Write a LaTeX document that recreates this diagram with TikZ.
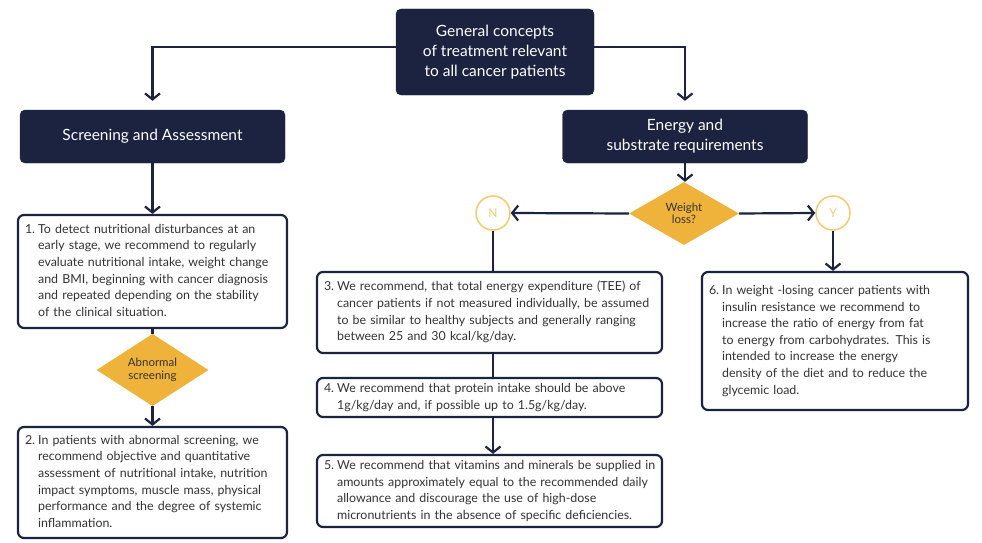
\documentclass[tikz,border=0pt]{standalone}
\usepackage{fontspec}
\setmainfont{Lato}
\usetikzlibrary{arrows.meta,shapes.geometric,positioning}
\definecolor{navy}{HTML}{1B2340}
\definecolor{gold}{HTML}{EFB33C}
\definecolor{lgold}{HTML}{F3CB6E}
\definecolor{txt}{HTML}{333333}
\begin{document}
\begin{tikzpicture}[x=1pt,y=-1pt,
  title/.style={draw=navy,fill=navy,rounded corners=5pt,text=white,align=center,
     font=\fontsize{15.5}{20}\selectfont,inner sep=0pt},
  rec/.style={draw=navy,line width=2.2pt,rounded corners=6pt,fill=white,text=txt,
     inner xsep=7pt,inner ysep=0pt,align=left,font=\fontsize{12.4}{16.6}\selectfont},
  dia/.style={diamond,fill=gold,inner sep=0pt,text=txt,align=center,
     font=\fontsize{11.5}{12.5}\selectfont},
  yn/.style={circle,draw=lgold,line width=1.5pt,fill=white,minimum size=34pt,inner sep=0pt,
     text=lgold,font=\fontsize{12}{12}\selectfont},
  con/.style={draw=navy,line width=2.2pt},
  arr/.style={con,-{Straight Barb[length=6pt,width=15pt]}}
]
\useasboundingbox (0,0) rectangle (982,543);

\node[title,minimum width=198pt,minimum height=86pt] (top) at (495,52)
  {General concepts\\of treatment relevant\\to all cancer patients};
\node[title,minimum width=265pt,minimum height=53pt] (scr) at (152.5,136.5)
  {Screening and Assessment};
\node[title,minimum width=245pt,minimum height=53pt] (ene) at (685,136.5)
  {Energy and\\substrate requirements};

\node[rec,text width=255pt,minimum height=113pt] (b1) at (152.5,271.5)
 {\begin{tabular}{@{}l@{\hspace{3pt}}l@{}}
 1. & To detect nutritional disturbances at an\\
    & early stage, we recommend to regularly\\
    & evaluate nutritional intake, weight change\\
    & and BMI, beginning with cancer diagnosis\\
    & and repeated depending on the stability\\
    & of the clinical situation.
 \end{tabular}};

\node[dia,minimum width=112pt,minimum height=64pt] (abn) at (152.5,370)
 {Abnormal\\screening};

\node[rec,text width=255pt,minimum height=111pt] (b2) at (152.5,482.5)
 {\begin{tabular}{@{}l@{\hspace{3pt}}l@{}}
 2. & In patients with abnormal screening, we\\
    & recommend objective and quantitative\\
    & assessment of nutritional intake, nutrition\\
    & impact symptoms, muscle mass, physical\\
    & performance and the degree of systemic\\
    & inflammation.
 \end{tabular}};

\node[dia,minimum width=110pt,minimum height=63pt] (wl) at (684,213.5)
 {Weight\\loss?};
\node[yn] (N) at (493,213) {N};
\node[yn] (Y) at (833,213) {Y};

\node[rec,text width=331pt,minimum height=81pt] (b3) at (489.5,312.5)
 {\begin{tabular}{@{}l@{\hspace{3pt}}l@{}}
 3. & We recommend, that total energy expenditure (TEE) of\\
    & cancer patients if not measured individually, be assumed\\
    & to be similar to healthy subjects and generally ranging\\
    & between 25 and 30 kcal/kg/day.
 \end{tabular}};
\node[rec,text width=331pt,minimum height=39pt] (b4) at (489.5,397.5)
 {\begin{tabular}{@{}l@{\hspace{3pt}}l@{}}
 4. & We recommend that protein intake should be above\\
    & 1g/kg/day and, if possible up to 1.5g/kg/day.
 \end{tabular}};
\node[rec,text width=331pt,minimum height=72pt] (b5) at (489.5,491)
 {\begin{tabular}{@{}l@{\hspace{3pt}}l@{}}
 5. & We recommend that vitamins and minerals be supplied in\\
    & amounts approximately equal to the recommended daily\\
    & allowance and discourage the use of high-dose\\
    & micronutrients in the absence of specific deficiencies.
 \end{tabular}};
\node[rec,text width=252pt,minimum height=138pt] (b6) at (835,341)
 {\begin{tabular}{@{}l@{\hspace{3pt}}l@{}}
 6. & In weight -losing cancer patients with\\
    & insulin resistance we recommend to\\
    & increase the ratio of energy from fat\\
    & to energy from carbohydrates. This is\\
    & intended to increase the energy\\
    & density of the diet and to reduce the\\
    & glycemic load.
 \end{tabular}};

% connectors
\draw[arr] ([yshift=5pt]top.west) -| ([yshift=9pt]scr.north);
\draw[arr] ([yshift=5pt]top.east) -| ([yshift=9pt]ene.north);
\draw[arr] (scr.south) -- (b1.north);
\draw[con] (b1.south) -- (abn.north);
\draw[arr] (abn.south) -- (b2.north);
\draw[arr] (ene.south) -- (ene.south |- wl.north);
\draw[arr] (wl.west) -- (N.east);
\draw[arr] (wl.east) -- (Y.west);
\draw[con] (N.south) -- (N.south |- b3.north);
\draw[con] (N.south |- b3.south) -- (N.south |- b4.north);
\draw[arr] (N.south |- b4.south) -- (N.south |- b5.north);
\draw[arr] (Y.south) -- (Y.south |- b6.north);
\end{tikzpicture}
\end{document}
